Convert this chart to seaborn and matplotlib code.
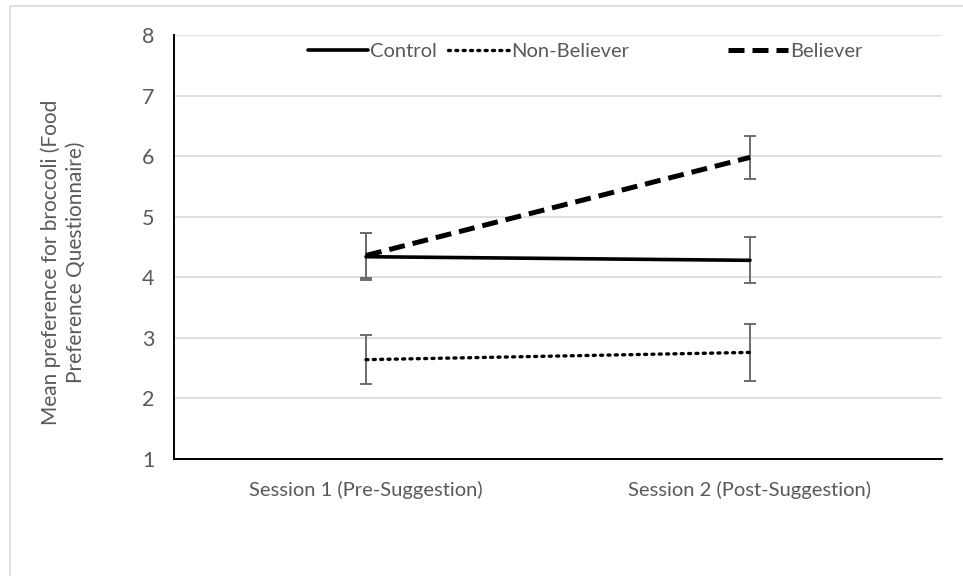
import matplotlib
matplotlib.use("Agg")
import matplotlib.pyplot as plt
import seaborn as sns
import pandas as pd
from matplotlib.patches import Rectangle

sessions = ["Session 1 (Pre-Suggestion)", "Session 2 (Post-Suggestion)"]
groups = ["Control", "Non-Believer", "Believer"]
control = [4.34, 4.28]
control_err = [0.39, 0.38]
nonbeliever = [2.64, 2.76]
nonbeliever_err = [0.41, 0.47]
believer = [4.36, 5.98]
believer_err = [0.37, 0.36]

means = {"Control": control, "Non-Believer": nonbeliever, "Believer": believer}
errs = {"Control": control_err, "Non-Believer": nonbeliever_err, "Believer": believer_err}

rows = []
for g in groups:
    for s, m, e in zip(sessions, means[g], errs[g]):
        rows.append({"Session": s, "Group": g, "Mean": m, "Err": e})
df = pd.DataFrame(rows)

sns.set_theme(style="white")
plt.rcParams["font.family"] = ["Lato", "DejaVu Sans"]

fig = plt.figure(figsize=(9.63, 5.76), dpi=100)
ax = fig.add_axes([174/963, 1 - 459/576, (942 - 174)/963, (459 - 35)/576])

styles = {
    "Control": dict(ls="-", lw=2.6),
    "Non-Believer": dict(ls=(0, (0.6, 1.6)), lw=2.4),
    "Believer": dict(ls=(0, (3.2, 1.6)), lw=3.6),
}

for g in groups:
    sub = df[df.Group == g]
    ax.errorbar(range(len(sub)), sub["Mean"], yerr=sub["Err"], fmt="none",
                ecolor="#6b6b6b", elinewidth=1.4, capsize=4.5, capthick=1.4, zorder=2)

handles = {}
for g in groups:
    sub = df[df.Group == g]
    sns.lineplot(data=sub, x="Session", y="Mean", ax=ax, color="black",
                 linestyle=styles[g]["ls"], linewidth=styles[g]["lw"],
                 label=g, zorder=3, sort=False, legend=False)
    ln = ax.lines[-1]
    ln.set_dash_capstyle("round" if g == "Non-Believer" else "butt")
    handles[g] = ln

ax.set_xlim(-0.5, 1.5)
ax.set_ylim(1, 8)
ax.set_yticks(range(1, 9))
ax.yaxis.grid(True, color="#d9d9d9", lw=1.2)
ax.set_axisbelow(True)
for sp in ["top", "right"]:
    ax.spines[sp].set_visible(False)
for sp in ["left", "bottom"]:
    ax.spines[sp].set_color("black")
    ax.spines[sp].set_linewidth(1.4)
ax.tick_params(axis="both", length=0, labelsize=14.5, labelcolor="#595959")
ax.tick_params(axis="y", labelsize=15.5, pad=14)
ax.tick_params(axis="x", pad=16)
ax.set_xlabel("")
ax.set_ylabel("Mean preference for broccoli (Food\nPreference Questionnaire)",
              fontsize=15, color="#595959", linespacing=1.3)
ax.yaxis.set_label_coords(-0.115, 0.465)

leg_kw = dict(loc="upper left", frameon=False, fontsize=14.5, handlelength=3.0,
              handletextpad=0.1, labelcolor="#595959", borderpad=0, borderaxespad=0)
leg1 = ax.legend([handles["Control"], handles["Non-Believer"]], ["Control", "Non-Believer"],
                 bbox_to_anchor=((308 - 174) / 768, 1 - (43 - 35) / 424), ncol=2,
                 columnspacing=0.55, **leg_kw)
ax.add_artist(leg1)
ax.legend([handles["Believer"]], ["Believer"],
          bbox_to_anchor=((728 - 174) / 768, 1 - (43 - 35) / 424), ncol=1, **leg_kw)

fig.add_artist(Rectangle((10/963, -0.2), 1.2, 1.2 - 6/576, transform=fig.transFigure,
                         fill=False, edgecolor="#d9d9d9", lw=1.2))

fig.savefig("out.png", dpi=100)
